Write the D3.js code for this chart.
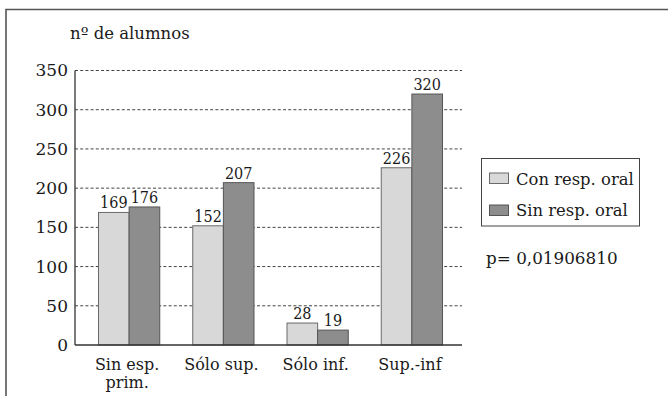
<!DOCTYPE html>
<html>
<head>
<meta charset="utf-8">
<script src="https://cdn.jsdelivr.net/npm/d3@7"></script>
<style>
  html, body { margin: 0; padding: 0; background: #fff; }
  svg { display: block; }
  text { font-family: "DejaVu Serif", serif; fill: #1a1a1a; }
</style>
</head>
<body>
<svg id="chart" width="668" height="396"></svg>
<script>
const categories = [["Sin esp.", "prim."], ["Sólo sup."], ["Sólo inf."], ["Sup.-inf"]];
const seriesNames = ["Con resp. oral", "Sin resp. oral"];
const conResp = [169, 152, 28, 226];
const sinResp = [176, 207, 19, 320];
const yTicks = [0, 50, 100, 150, 200, 250, 300, 350];
const yTitle = "nº de alumnos";
const pText = "p= 0,01906810";

const colors = ["#d8d8d8", "#8d8d8d"];
const strokes = ["#6a6a6a", "#555555"];

const svg = d3.select("#chart");

// page frame
svg.append("path")
  .attr("d", "M6,396 L6,9.5 L668,9.5")
  .attr("fill", "none").attr("stroke", "#555").attr("stroke-width", 1.6);

const plot = { left: 75, right: 462, top: 70.5, bottom: 345 };

const y = d3.scaleLinear().domain([0, 350]).range([plot.bottom, plot.top]);
const x0 = d3.scaleBand().domain(d3.range(categories.length))
  .range([82, 459]).paddingInner(0.35).paddingOuter(0.175);
const x1 = d3.scaleBand().domain([0, 1]).range([0, x0.bandwidth()]);

// gridlines
svg.append("g").selectAll("line")
  .data(yTicks.filter(d => d > 0))
  .join("line")
  .attr("x1", plot.left).attr("x2", plot.right)
  .attr("y1", d => y(d)).attr("y2", d => y(d))
  .attr("stroke", "#444").attr("stroke-width", 1)
  .attr("stroke-dasharray", "3,2.2");

// y axis labels
const yAxis = d3.axisLeft(y).tickValues(yTicks).tickSize(0).tickPadding(7).tickFormat(d3.format("d"));
const gy = svg.append("g").attr("transform", `translate(${plot.left},0)`).call(yAxis);
gy.select(".domain").remove();
gy.selectAll("text")
  .style("font-family", '"DejaVu Serif", serif')
  .style("font-size", "17px")
  .attr("fill", "#1a1a1a");

// bars
const data = categories.map((c, i) => ({ i, vals: [conResp[i], sinResp[i]] }));
const groups = svg.append("g").selectAll("g")
  .data(data).join("g")
  .attr("transform", d => `translate(${x0(d.i)},0)`);

groups.selectAll("rect")
  .data(d => d.vals.map((v, k) => ({ v, k })))
  .join("rect")
  .attr("x", d => x1(d.k))
  .attr("y", d => y(d.v))
  .attr("width", x1.bandwidth())
  .attr("height", d => y(0) - y(d.v))
  .attr("fill", d => colors[d.k])
  .attr("stroke", d => strokes[d.k])
  .attr("stroke-width", 1);

groups.selectAll("text.val")
  .data(d => d.vals.map((v, k) => ({ v, k })))
  .join("text")
  .attr("class", "val")
  .attr("x", d => x1(d.k) + x1.bandwidth() / 2)
  .attr("y", d => y(d.v) - 4)
  .attr("text-anchor", "middle")
  .style("font-family", '"DejaVu Serif Condensed", "DejaVu Serif", serif')
  .style("font-size", "16px")
  .text(d => d.v);

// axes lines
svg.append("line")
  .attr("x1", plot.left).attr("x2", plot.left)
  .attr("y1", plot.top).attr("y2", plot.bottom)
  .attr("stroke", "#333").attr("stroke-width", 1.3);
svg.append("line")
  .attr("x1", plot.left).attr("x2", plot.right)
  .attr("y1", plot.bottom).attr("y2", plot.bottom)
  .attr("stroke", "#333").attr("stroke-width", 1.5);

// category labels
const cat = svg.append("g").selectAll("text")
  .data(categories).join("text")
  .attr("x", (d, i) => x0(i) + x0.bandwidth() / 2 - 2)
  .attr("y", 369.5)
  .attr("text-anchor", "middle")
  .style("font-size", "16px");
cat.selectAll("tspan")
  .data(d => d).join("tspan")
  .attr("x", function () { return this.parentNode.getAttribute("x"); })
  .attr("dy", (d, j) => j === 0 ? 0 : 18.5)
  .text(d => d);

// y title
svg.append("text")
  .attr("x", 70).attr("y", 39)
  .style("font-size", "16.5px")
  .text(yTitle);

// legend
const lg = svg.append("g");
lg.append("rect")
  .attr("x", 481.5).attr("y", 158.5).attr("width", 158).attr("height", 67.5)
  .attr("fill", "#fff").attr("stroke", "#444").attr("stroke-width", 1);
seriesNames.forEach((name, k) => {
  const yy = 173 + k * 32;
  lg.append("rect")
    .attr("x", 489.5).attr("y", yy).attr("width", 19).attr("height", 10.5)
    .attr("fill", colors[k]).attr("stroke", strokes[k]).attr("stroke-width", 1);
  lg.append("text")
    .attr("x", 516).attr("y", 185 + k * 30.5)
    .style("font-size", "16.4px")
    .text(name);
});

svg.append("text")
  .attr("x", 486).attr("y", 263.5)
  .style("font-size", "16.8px")
  .text(pText);
</script>
</body>
</html>
